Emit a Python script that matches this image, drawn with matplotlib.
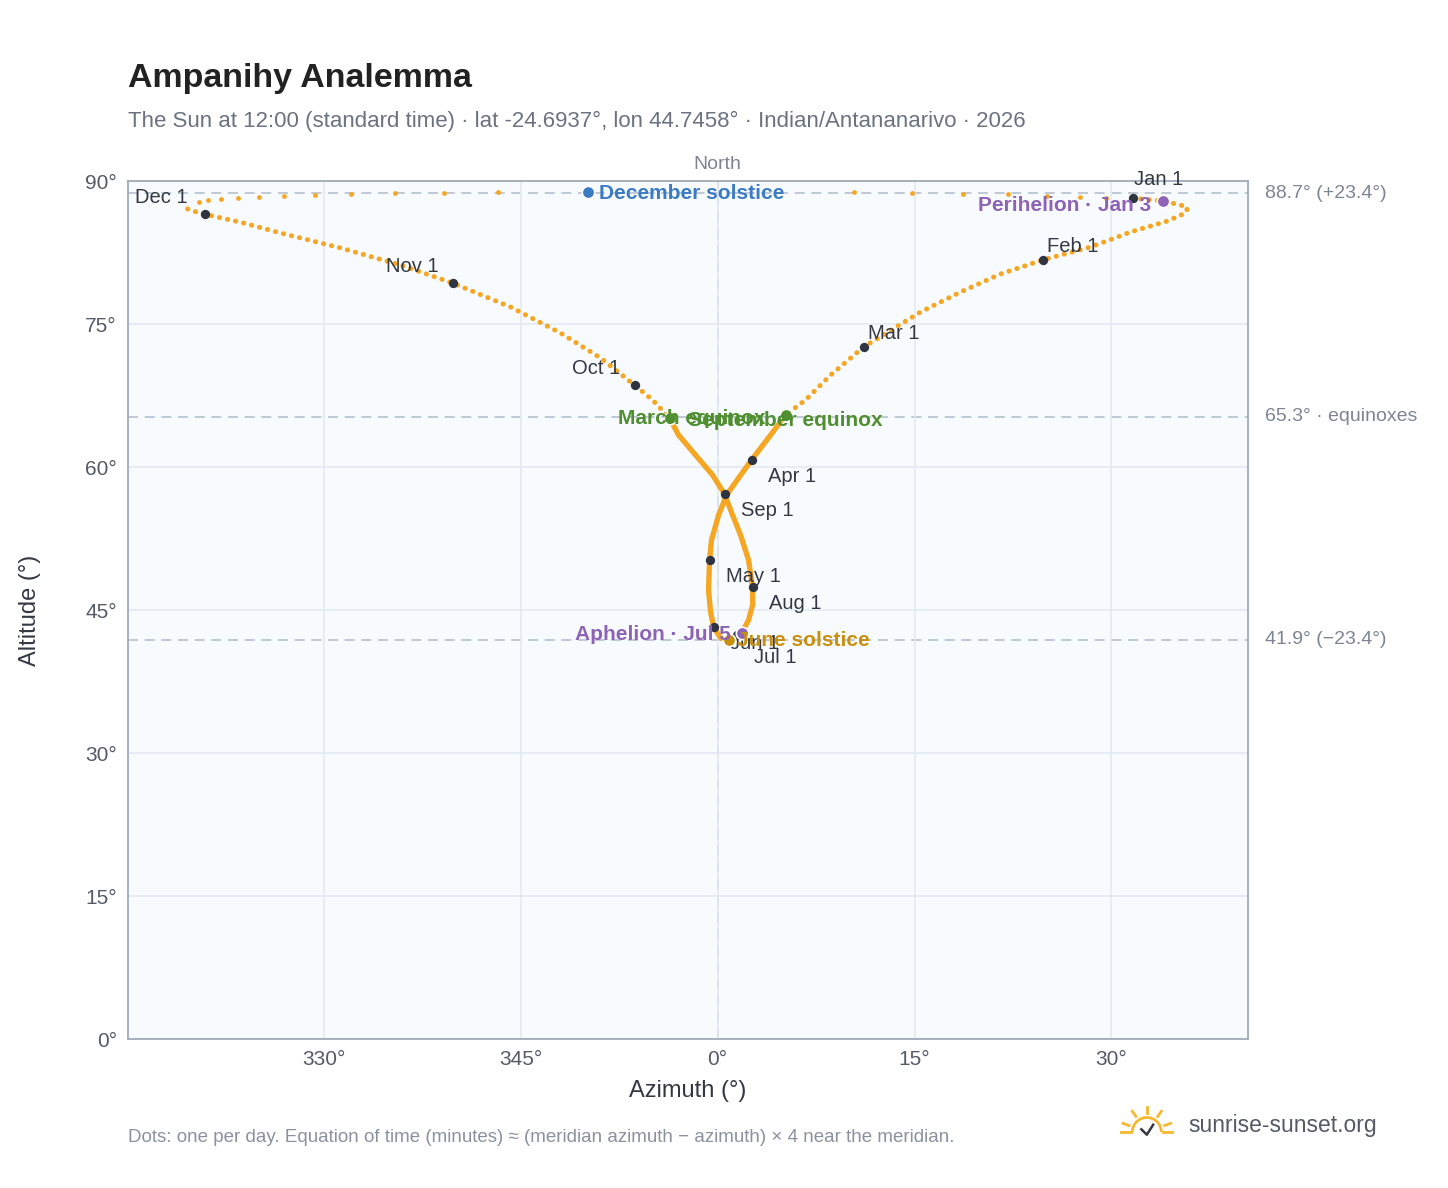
import math

import matplotlib
matplotlib.use("Agg")
import matplotlib.pyplot as plt
from matplotlib.patches import Arc

plt.rcParams["font.family"] = ["Liberation Sans", "DejaVu Sans"]

# analemma path, Jan 1 -> Dec (azimuth in degrees east of north, signed; altitude)
path_az = [31.61, 33.89, 35.26, 35.80, 35.64, 34.27, 31.45, 28.41, 24.75, 21.55, 18.51, 15.46,
           11.12, 8.61, 6.70, 5.18, 4.04, 2.59, 1.60, 0.69, 0.08, -0.46, -0.61, -0.69, -0.53,
           -0.30, 0.23, 0.84, 1.83, 2.36, 2.67, 2.67, 2.36, 1.75, 1.14, 0.53, -0.38, -1.68,
           -2.97, -3.66, -4.95, -6.32, -8.91, -11.96, -15.77, -20.18, -24.14, -28.71, -33.28,
           -36.33, -39.07, -40.14, -40.67]
path_alt = [88.22, 87.90, 87.49, 87.17, 86.65, 85.81, 84.65, 83.08, 81.72, 80.25, 78.36, 76.26,
            72.59, 69.65, 67.03, 65.46, 63.36, 60.74, 58.85, 57.07, 54.97, 52.35, 50.25, 47.10,
            44.79, 43.22, 42.06, 41.85, 42.59, 43.95, 45.53, 47.41, 50.25, 52.87, 54.97, 57.17,
            59.16, 61.26, 63.36, 65.14, 67.03, 68.60, 71.44, 74.06, 76.79, 79.30, 81.19, 82.98,
            84.55, 85.68, 86.52, 86.94, 87.27]
# near-zenith days in December, spread widely in azimuth
top_az = [-39.53, -38.77, -37.78, -36.56, -34.96, -33.05, -30.69, -27.88, -24.60, -20.87, -16.75,
          10.36, 14.78, 18.66, 22.09, 25.06, 27.57, 29.55]
top_alt = [87.80, 88.01, 88.11, 88.22, 88.33, 88.41, 88.53, 88.62, 88.73, 88.73, 88.83,
           88.83, 88.73, 88.62, 88.62, 88.41, 88.33, 88.22]

month_names = ["Jan 1", "Feb 1", "Mar 1", "Apr 1", "May 1", "Jun 1", "Jul 1", "Aug 1",
               "Sep 1", "Oct 1", "Nov 1", "Dec 1"]
month_az = [31.61, 24.75, 11.12, 2.59, -0.61, -0.30, 1.50, 2.67, 0.53, -6.32, -20.18, -39.07]
month_alt = [88.22, 81.72, 72.59, 60.74, 50.25, 43.22, 42.40, 47.41, 57.17, 68.60, 79.30, 86.52]
# label offsets in points
month_off = [(1, 13), (3, 10), (3, 10), (12, -12), (12, -12), (12, -12), (12, -16), (12, -12),
             (12, -12), (-10, 12), (-10, 12), (-12, 12)]

ref_alts = [88.7, 65.3, 41.9]
ref_labels = ["88.7° (+23.4°)", "65.3° · equinoxes", "41.9° (−23.4°)"]

events = [
    ("December solstice", -9.85, 88.83, "#3b7bc4", 8, -1, "left"),
    ("Perihelion · Jan 3", 33.89, 87.90, "#8e62b5", -8, -3, "right"),
    ("March equinox", -3.66, 65.14, "#4f8f2f", -37, 0, "left"),
    ("September equinox", 5.18, 65.46, "#4f8f2f", 0, -4, "center"),
    ("June solstice", 0.84, 41.85, "#c98f0f", 6, 0, "left"),
    ("Aphelion · Jul 5", 1.83, 42.59, "#8e62b5", -8, -1, "right"),
]

orange = "#f5a623"
fig = plt.figure(figsize=(14.48, 11.88), dpi=100)
ax = fig.add_axes([0.0884, 0.1254, 0.7735, 0.7222])
ax.set_facecolor("#f8fbfe")
ax.set_xlim(-44.9, 40.4)
ax.set_ylim(0, 90)

ax.set_xticks([-30, -15, 0, 15, 30])
ax.set_xticklabels(["330°", "345°", "0°", "15°", "30°"])
ax.set_yticks(range(0, 91, 15))
ax.set_yticklabels([f"{v}°" for v in range(0, 91, 15)])
ax.grid(color="#e3e9f0", lw=1.2)
ax.tick_params(length=0, labelsize=15, colors="#555b66", pad=8)
for s in ax.spines.values():
    s.set_color("#9aa5b4")
    s.set_linewidth(1.2)

for a in ref_alts:
    ax.axhline(a, color="#b6c0cc", ls=(0, (6, 4)), lw=1.2, zorder=1)
ax.axvline(0, color="#b6c0cc", ls=(0, (6, 4)), lw=1.2, zorder=1)
for a, lab in zip(ref_alts, ref_labels):
    ax.annotate(lab, (1, a), xycoords=("axes fraction", "data"), xytext=(12, 0),
                textcoords="offset points", va="center", fontsize=14, color="#7d8591",
                annotation_clip=False)
ax.text(0, 90.8, "North", ha="center", va="bottom", fontsize=14, color="#7d8591")

ax.plot(path_az, path_alt, color=orange, lw=3.6, ls=(0, (0.05, 1.6)),
        dash_capstyle="round", zorder=2)
# daily dots overlap into a solid band through the lower loop
ax.plot(path_az[15:40], path_alt[15:40], color=orange, lw=3.8, solid_capstyle="round",
        solid_joinstyle="round", zorder=2)
ax.scatter(top_az, top_alt, s=12, color=orange, zorder=2, lw=0)

ax.scatter(month_az, month_alt, s=45, color="#2f3540", zorder=4, lw=0)
for name, x, y, off in zip(month_names, month_az, month_alt, month_off):
    ha = "right" if off[0] < 0 else "left"
    ax.annotate(name, (x, y), xytext=off, textcoords="offset points", ha=ha, va="center",
                fontsize=14.5, color="#333842", zorder=5)

for name, x, y, col, dx, dy, ha in events:
    ax.scatter([x], [y], s=80, color=col, edgecolor="white", lw=1.2, zorder=6)
    ax.annotate(name, (x, y), xytext=(dx, dy), textcoords="offset points", ha=ha,
                va="center", fontsize=15, fontweight="bold", color=col, zorder=7)

ax.set_xlabel("Azimuth (°)", fontsize=17, color="#333842", labelpad=8)
ax.set_ylabel("Altitude (°)", fontsize=17, color="#333842", labelpad=32)

fig.text(0.0884, 0.927, "Ampanihy Analemma", fontsize=24.5, fontweight="bold", color="#222222")
fig.text(0.0884, 0.893, "The Sun at 12:00 (standard time) · lat -24.6937°, lon 44.7458° · "
         "Indian/Antananarivo · 2026", fontsize=16, color="#6b7280")
fig.text(0.0884, 0.039, "Dots: one per day. Equation of time (minutes) ≈ (meridian azimuth − "
         "azimuth) × 4 near the meridian.", fontsize=13.5, color="#8a929e")
fig.text(0.821, 0.053, "sunrise-sunset.org", fontsize=16.5, color="#555b66", va="center")

# small sun logo
lax = fig.add_axes([0.772, 0.038, 0.04, 0.032])
lax.set_xlim(-1.5, 1.5)
lax.set_ylim(-0.6, 1.5)
lax.set_aspect("equal")
lax.axis("off")
lax.add_patch(Arc((0, 0), 1.6, 1.6, theta1=0, theta2=180, color="#f5b82e", lw=2))
for ang in [20, 55, 90, 125, 160]:
    c, s = math.cos(math.radians(ang)), math.sin(math.radians(ang))
    lax.plot([1.05 * c, 1.4 * c], [1.05 * s, 1.4 * s], color="#f5b82e", lw=2)
lax.plot([-1.5, -0.9], [0, 0], color="#f5b82e", lw=2)
lax.plot([0.9, 1.5], [0, 0], color="#f5b82e", lw=2)
lax.plot([-0.3, 0, 0.35], [0.15, -0.15, 0.4], color="#333842", lw=1.8)

fig.savefig("out.png", dpi=100)
